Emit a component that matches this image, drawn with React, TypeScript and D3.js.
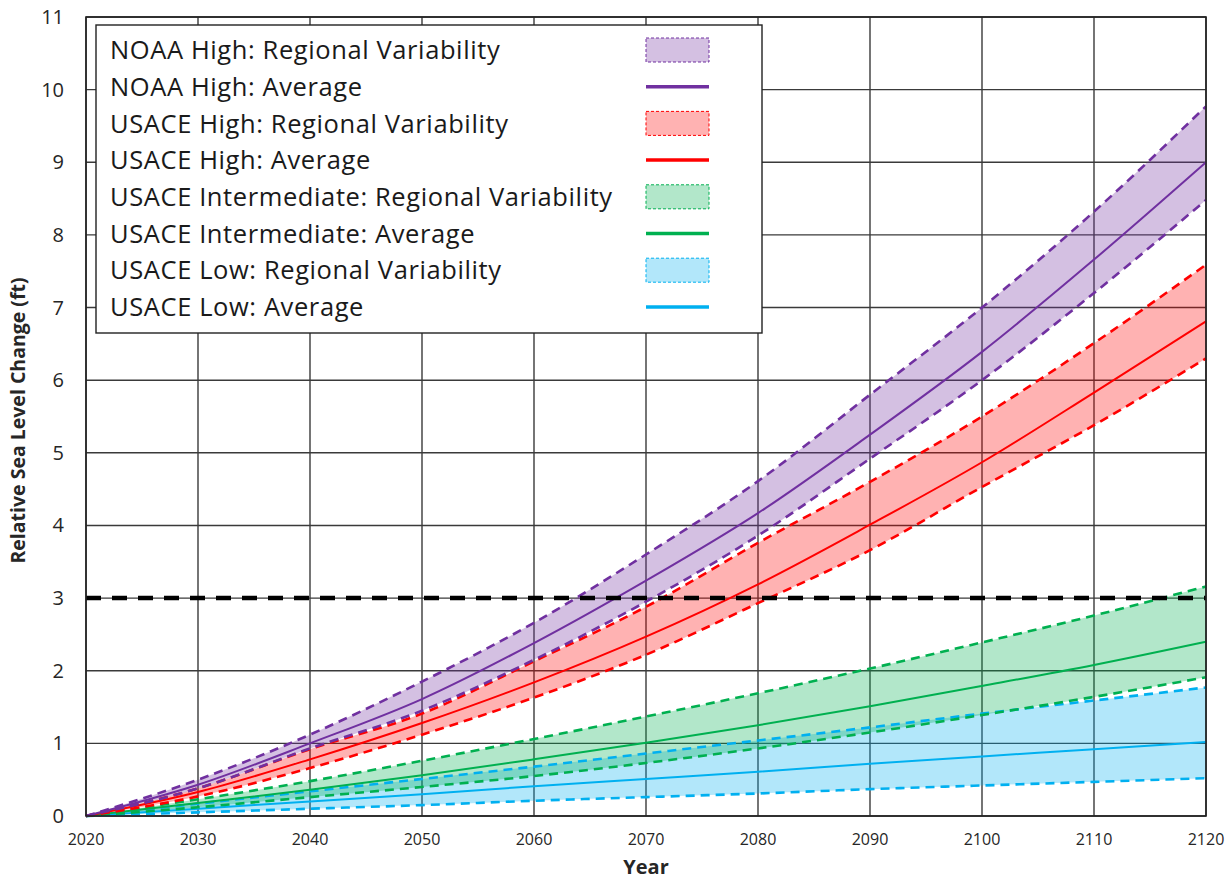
import React, { useRef, useEffect } from 'react';
import * as d3 from 'd3';

const years = [2020, 2030, 2040, 2050, 2060, 2070, 2080, 2090, 2100, 2110, 2120];

const noaaHighUpper = [0, 0.5, 1.12, 1.85, 2.66, 3.6, 4.61, 5.8, 7.0, 8.32, 9.77];
const noaaHighAvg = [0, 0.43, 1.0, 1.61, 2.38, 3.24, 4.17, 5.25, 6.39, 7.66, 9.0];
const noaaHighLower = [0, 0.38, 0.93, 1.45, 2.15, 2.95, 3.86, 4.92, 6.0, 7.2, 8.48];

const usaceHighUpper = [0, 0.38, 0.92, 1.41, 2.13, 2.88, 3.76, 4.6, 5.5, 6.51, 7.59];
const usaceHighAvg = [0, 0.33, 0.78, 1.28, 1.84, 2.47, 3.19, 4.01, 4.87, 5.83, 6.81];
const usaceHighLower = [0, 0.27, 0.66, 1.12, 1.63, 2.22, 2.93, 3.66, 4.53, 5.38, 6.3];

const usaceIntUpper = [0, 0.23, 0.48, 0.76, 1.06, 1.37, 1.69, 2.03, 2.39, 2.76, 3.16];
const usaceIntAvg = [0, 0.18, 0.36, 0.56, 0.78, 1.01, 1.25, 1.51, 1.79, 2.08, 2.4];
const usaceIntLower = [0, 0.12, 0.26, 0.4, 0.55, 0.73, 0.93, 1.15, 1.39, 1.64, 1.91];

const usaceLowUpper = [0, 0.17, 0.34, 0.51, 0.68, 0.86, 1.04, 1.22, 1.41, 1.59, 1.77];
const usaceLowAvg = [0, 0.1, 0.2, 0.3, 0.41, 0.51, 0.61, 0.72, 0.82, 0.92, 1.02];
const usaceLowLower = [0, 0.05, 0.1, 0.15, 0.21, 0.26, 0.31, 0.37, 0.42, 0.47, 0.52];

const threshold = 3;
const yTicks = d3.range(0, 12);
const xTicks = d3.range(2020, 2121, 10);

const scenarios = [
    { name: 'USACE Low', color: '#00B0F0', upper: usaceLowUpper, avg: usaceLowAvg, lower: usaceLowLower },
    { name: 'USACE Intermediate', color: '#00B050', upper: usaceIntUpper, avg: usaceIntAvg, lower: usaceIntLower },
    { name: 'USACE High', color: '#FF0000', upper: usaceHighUpper, avg: usaceHighAvg, lower: usaceHighLower },
    { name: 'NOAA High', color: '#7030A0', upper: noaaHighUpper, avg: noaaHighAvg, lower: noaaHighLower },
];

const legendOrder = ['NOAA High', 'USACE High', 'USACE Intermediate', 'USACE Low'];

const App = () => {
    const svgRef = useRef<SVGSVGElement>(null);

    useEffect(() => {
        document.body.style.margin = '0';
        const svg = d3.select(svgRef.current);
        svg.selectAll('*').remove();

        const width = 1228;
        const height = 882;
        const marginLeft = 86;
        const marginRight = 22;
        const marginTop = 17;
        const marginBottom = 66;
        const font = '"Open Sans", Calibri, sans-serif';

        svg.attr('width', width).attr('height', height).attr('viewBox', [0, 0, width, height])
            .style('display', 'block').style('background', '#fff');

        const x = d3.scaleLinear().domain([2020, 2120]).range([marginLeft, width - marginRight]);
        const y = d3.scaleLinear().domain([0, 11]).range([height - marginBottom, marginTop]);

        // Grid
        const grid = svg.append('g').attr('stroke', '#3a3a3a').attr('stroke-width', 1.4);
        grid.selectAll('.gx').data(xTicks).join('line')
            .attr('x1', d => x(d)).attr('x2', d => x(d))
            .attr('y1', y(0)).attr('y2', y(11));
        grid.selectAll('.gy').data(yTicks).join('line')
            .attr('x1', x(2020)).attr('x2', x(2120))
            .attr('y1', d => y(d)).attr('y2', d => y(d));

        // Bands and lines
        const area = d3.area<number>()
            .x((d, i) => x(years[i]))
            .curve(d3.curveMonotoneX);
        const line = d3.line<number>()
            .x((d, i) => x(years[i]))
            .y(d => y(d))
            .curve(d3.curveMonotoneX);

        scenarios.forEach(s => {
            svg.append('path')
                .datum(s.upper)
                .attr('d', area.y0((d, i) => y(s.lower[i])).y1(d => y(d)) as any)
                .attr('fill', s.color)
                .attr('fill-opacity', 0.3);
        });
        scenarios.forEach(s => {
            [s.upper, s.lower].forEach(b => {
                svg.append('path').datum(b).attr('d', line as any)
                    .attr('fill', 'none').attr('stroke', s.color)
                    .attr('stroke-width', 2.6).attr('stroke-dasharray', '9,6');
            });
            svg.append('path').datum(s.avg).attr('d', line as any)
                .attr('fill', 'none').attr('stroke', s.color).attr('stroke-width', 2);
        });

        // 3 ft threshold
        svg.append('line')
            .attr('x1', x(2020)).attr('x2', x(2120))
            .attr('y1', y(threshold)).attr('y2', y(threshold))
            .attr('stroke', '#000').attr('stroke-width', 4.5).attr('stroke-dasharray', '15,11');

        // Border
        svg.append('rect')
            .attr('x', x(2020)).attr('y', y(11))
            .attr('width', x(2120) - x(2020)).attr('height', y(0) - y(11))
            .attr('fill', 'none').attr('stroke', '#222').attr('stroke-width', 1.6);

        // Axis labels
        svg.append('g').selectAll('text').data(yTicks).join('text')
            .attr('x', marginLeft - 22).attr('y', d => y(d)).attr('dy', '0.35em')
            .attr('text-anchor', 'end').attr('font-family', font).attr('font-size', 20)
            .attr('fill', '#262626').text(d => d);
        svg.append('g').selectAll('text').data(xTicks).join('text')
            .attr('x', d => x(d)).attr('y', height - 37)
            .attr('text-anchor', 'middle').attr('font-family', font).attr('font-size', 16)
            .attr('fill', '#262626').text(d => d);

        svg.append('text')
            .attr('x', (x(2020) + x(2120)) / 2).attr('y', height - 8)
            .attr('text-anchor', 'middle').attr('font-family', font).attr('font-size', 20)
            .attr('font-weight', 'bold').attr('fill', '#262626').text('Year');
        svg.append('text')
            .attr('transform', `translate(25,${(y(0) + y(11)) / 2 + 4}) rotate(-90)`)
            .attr('text-anchor', 'middle').attr('font-family', font).attr('font-size', 19.5)
            .attr('font-weight', 'bold').attr('fill', '#262626').text('Relative Sea Level Change (ft)');

        // Legend
        const legend = svg.append('g');
        legend.append('rect')
            .attr('x', 96).attr('y', 25).attr('width', 666).attr('height', 308)
            .attr('fill', '#fff').attr('stroke', '#222').attr('stroke-width', 1.4);
        const rows: { label: string, color: string, kind: string }[] = [];
        legendOrder.forEach(n => {
            const s = scenarios.find(d => d.name === n)!;
            rows.push({ label: `${n}: Regional Variability`, color: s.color, kind: 'band' });
            rows.push({ label: `${n}: Average`, color: s.color, kind: 'line' });
        });
        const rowY = (i: number) => 50 + i * 36.7;
        legend.selectAll('text').data(rows).join('text')
            .attr('x', 110).attr('y', (d, i) => rowY(i)).attr('dy', '0.36em')
            .attr('font-family', font).attr('font-size', 25.5).attr('letter-spacing', 0.6)
            .attr('fill', '#1a1a1a')
            .text(d => d.label);
        rows.forEach((r, i) => {
            if (r.kind === 'band') {
                legend.append('rect')
                    .attr('x', 646).attr('y', rowY(i) - 12).attr('width', 63).attr('height', 24)
                    .attr('fill', r.color).attr('fill-opacity', 0.3)
                    .attr('stroke', r.color).attr('stroke-width', 1).attr('stroke-dasharray', '3,2');
            } else {
                legend.append('line')
                    .attr('x1', 646).attr('x2', 709).attr('y1', rowY(i)).attr('y2', rowY(i))
                    .attr('stroke', r.color).attr('stroke-width', 3.5);
            }
        });
    }, []);

    return <svg ref={svgRef}></svg>;
};

export default App;
